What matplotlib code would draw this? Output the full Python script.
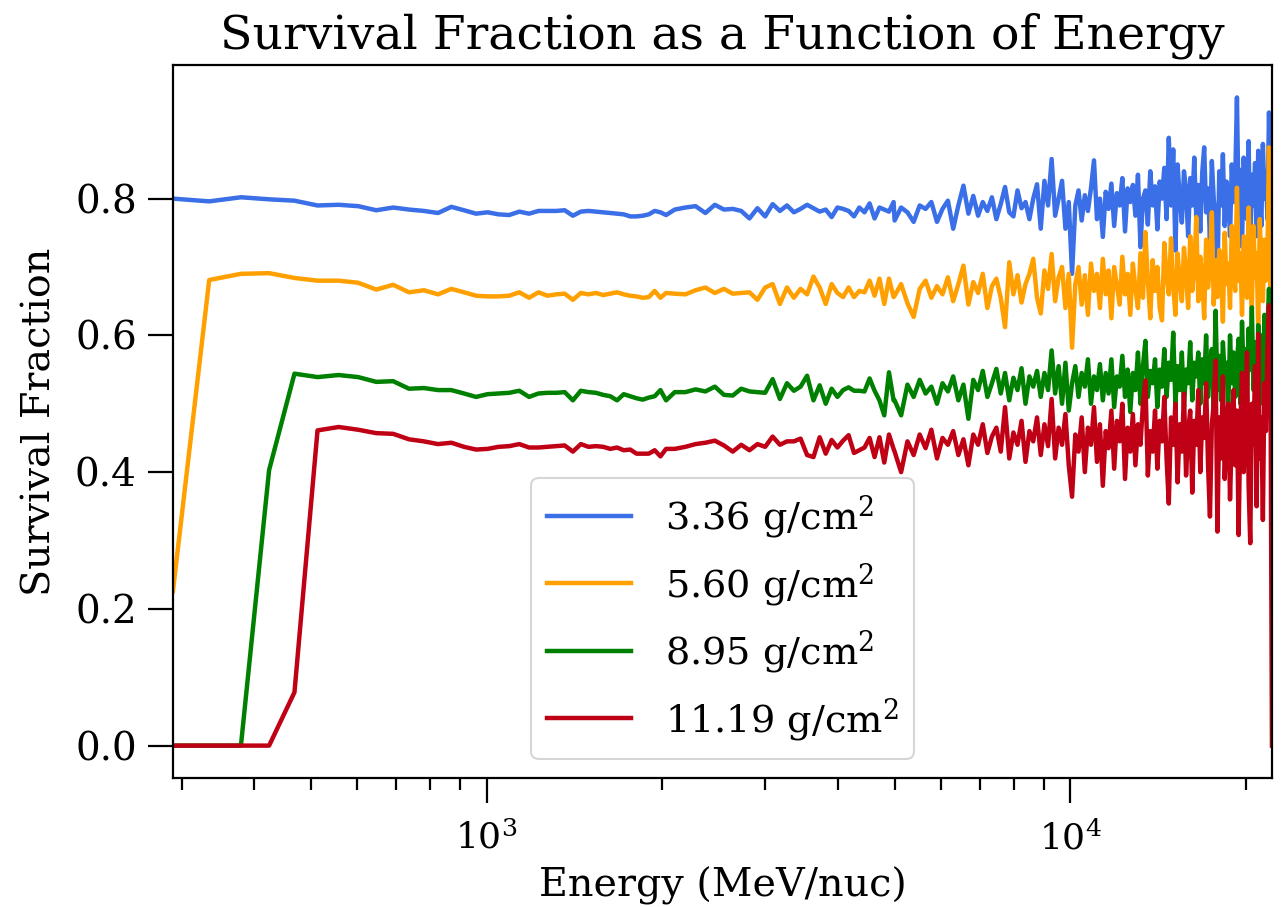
import numpy as np
import matplotlib
matplotlib.use("Agg")
import matplotlib.pyplot as plt

# energy grid (MeV/nuc): fine steps at low energy, coarser where the curves are noisy
energy = np.concatenate([np.arange(290, 2050, 44.6),
                         np.arange(2100, 5000, 90),
                         np.arange(5000, 22200, 130)])

labels = ["3.36 g/cm$^2$", "5.60 g/cm$^2$", "8.95 g/cm$^2$", "11.19 g/cm$^2$"]
colors = ["#3a6fe8", "#ffa000", "#008000", "#c00014"]

surv_336 = [
    # 290 - 2030
    0.800, 0.796, 0.802, 0.799, 0.797, 0.790, 0.791, 0.789, 0.783, 0.787,
    0.784, 0.782, 0.779, 0.788, 0.783, 0.778, 0.780, 0.777, 0.776, 0.781,
    0.778, 0.782, 0.782, 0.782, 0.783, 0.775, 0.781, 0.782, 0.781, 0.780,
    0.779, 0.778, 0.777, 0.774, 0.774, 0.775, 0.777, 0.782, 0.780, 0.776,
    # 2100 - 4980
    0.784, 0.787, 0.789, 0.779, 0.791, 0.784, 0.785, 0.782, 0.771, 0.786,
    0.774, 0.792, 0.782, 0.790, 0.780, 0.785, 0.791, 0.786, 0.781, 0.784,
    0.773, 0.787, 0.785, 0.782, 0.774, 0.787, 0.780, 0.793, 0.771, 0.787,
    0.784, 0.781, 0.795,
    # 5000 - 22160
    0.768, 0.787, 0.780, 0.766, 0.790, 0.785, 0.795, 0.766, 0.785, 0.797,
    0.756, 0.790, 0.819, 0.778, 0.804, 0.775, 0.795, 0.782, 0.802, 0.770,
    0.792, 0.817, 0.780, 0.774, 0.812, 0.786, 0.795, 0.770, 0.800, 0.821,
    0.756, 0.826, 0.790, 0.858, 0.775, 0.800, 0.826, 0.756, 0.795, 0.690,
    0.790, 0.812, 0.768, 0.805, 0.782, 0.815, 0.856, 0.770, 0.800, 0.744,
    0.810, 0.785, 0.822, 0.760, 0.808, 0.790, 0.830, 0.752, 0.815, 0.795,
    0.820, 0.775, 0.835, 0.729, 0.800, 0.812, 0.762, 0.840, 0.790, 0.818,
    0.755, 0.825, 0.800, 0.845, 0.770, 0.889, 0.790, 0.872, 0.724, 0.850,
    0.800, 0.765, 0.840, 0.812, 0.745, 0.830, 0.790, 0.860, 0.770, 0.820,
    0.752, 0.838, 0.875, 0.780, 0.815, 0.740, 0.855, 0.800, 0.770, 0.680,
    0.840, 0.790, 0.865, 0.760, 0.825, 0.805, 0.745, 0.850, 0.795, 0.830,
    0.948, 0.780, 0.842, 0.730, 0.860, 0.800, 0.770, 0.884, 0.720, 0.835,
    0.790, 0.852, 0.745, 0.870, 0.810, 0.760, 0.880, 0.800, 0.840, 0.770,
    0.926, 0.830, 0.880,
]

surv_560 = [
    0.226, 0.681, 0.690, 0.691, 0.684, 0.680, 0.680, 0.677, 0.667, 0.674,
    0.663, 0.666, 0.660, 0.668, 0.663, 0.658, 0.657, 0.657, 0.658, 0.663,
    0.655, 0.663, 0.658, 0.660, 0.661, 0.652, 0.662, 0.660, 0.662, 0.659,
    0.661, 0.663, 0.660, 0.658, 0.657, 0.655, 0.656, 0.665, 0.655, 0.662,
    0.661, 0.660, 0.666, 0.670, 0.662, 0.668, 0.661, 0.662, 0.663, 0.652,
    0.670, 0.675, 0.646, 0.670, 0.655, 0.668, 0.660, 0.686, 0.670, 0.646,
    0.675, 0.662, 0.656, 0.670, 0.656, 0.665, 0.663, 0.680, 0.658, 0.683,
    0.646, 0.683, 0.656,
    0.658, 0.675, 0.647, 0.627, 0.668, 0.680, 0.655, 0.672, 0.660, 0.685,
    0.650, 0.675, 0.702, 0.645, 0.678, 0.662, 0.690, 0.640, 0.672, 0.683,
    0.655, 0.612, 0.707, 0.660, 0.688, 0.648, 0.675, 0.690, 0.712, 0.655,
    0.632, 0.695, 0.668, 0.719, 0.650, 0.685, 0.700, 0.640, 0.690, 0.582,
    0.675, 0.700, 0.645, 0.688, 0.630, 0.705, 0.665, 0.690, 0.640, 0.712,
    0.660, 0.695, 0.625, 0.700, 0.672, 0.645, 0.715, 0.660, 0.690, 0.630,
    0.705, 0.668, 0.640, 0.720, 0.655, 0.751, 0.680, 0.625, 0.710, 0.665,
    0.700, 0.640, 0.622, 0.735, 0.690, 0.660, 0.742, 0.672, 0.630, 0.720,
    0.680, 0.650, 0.728, 0.690, 0.640, 0.745, 0.665, 0.700, 0.773, 0.650,
    0.715, 0.685, 0.625, 0.740, 0.670, 0.700, 0.780, 0.645, 0.710, 0.656,
    0.725, 0.690, 0.620, 0.750, 0.675, 0.705, 0.640, 0.760, 0.690, 0.665,
    0.816, 0.680, 0.720, 0.630, 0.745, 0.700, 0.655, 0.787, 0.690, 0.640,
    0.760, 0.685, 0.720, 0.610, 0.770, 0.700, 0.650, 0.740, 0.680, 0.720,
    0.875, 0.640, 0.700,
]

surv_895 = [
    0.000, 0.000, 0.000, 0.403, 0.544, 0.539, 0.542, 0.539, 0.532, 0.533,
    0.522, 0.523, 0.520, 0.520, 0.515, 0.510, 0.514, 0.515, 0.516, 0.519,
    0.510, 0.515, 0.516, 0.516, 0.517, 0.505, 0.519, 0.517, 0.516, 0.513,
    0.511, 0.505, 0.514, 0.511, 0.508, 0.506, 0.509, 0.511, 0.520, 0.505,
    0.517, 0.517, 0.521, 0.518, 0.525, 0.513, 0.512, 0.522, 0.518, 0.517,
    0.516, 0.536, 0.507, 0.530, 0.519, 0.525, 0.541, 0.505, 0.527, 0.500,
    0.522, 0.510, 0.520, 0.524, 0.519, 0.519, 0.518, 0.537, 0.519, 0.505,
    0.483, 0.546, 0.505,
    0.505, 0.483, 0.528, 0.510, 0.535, 0.515, 0.525, 0.500, 0.530, 0.518,
    0.540, 0.505, 0.528, 0.478, 0.535, 0.520, 0.548, 0.510, 0.530, 0.551,
    0.515, 0.545, 0.505, 0.538, 0.520, 0.552, 0.500, 0.540, 0.525, 0.548,
    0.510, 0.545, 0.520, 0.578, 0.515, 0.555, 0.500, 0.560, 0.490, 0.530,
    0.555, 0.510, 0.545, 0.525, 0.565, 0.500, 0.540, 0.520, 0.558, 0.505,
    0.545, 0.515, 0.565, 0.495, 0.540, 0.525, 0.570, 0.510, 0.550, 0.488,
    0.545, 0.520, 0.575, 0.500, 0.555, 0.592, 0.510, 0.548, 0.530, 0.565,
    0.495, 0.550, 0.525, 0.580, 0.510, 0.560, 0.535, 0.604, 0.500, 0.555,
    0.520, 0.575, 0.495, 0.550, 0.530, 0.590, 0.505, 0.560, 0.540, 0.575,
    0.500, 0.565, 0.530, 0.600, 0.510, 0.555, 0.580, 0.495, 0.636, 0.520,
    0.570, 0.505, 0.590, 0.540, 0.560, 0.490, 0.600, 0.530, 0.575, 0.510,
    0.560, 0.595, 0.500, 0.620, 0.540, 0.580, 0.505, 0.610, 0.550, 0.641,
    0.520, 0.590, 0.480, 0.615, 0.545, 0.600, 0.500, 0.630, 0.560, 0.610,
    0.668, 0.590, 0.520,
]

surv_1119 = [
    0.000, 0.000, 0.000, 0.000, 0.078, 0.461, 0.466, 0.462, 0.457, 0.456,
    0.448, 0.445, 0.441, 0.443, 0.437, 0.433, 0.434, 0.437, 0.438, 0.441,
    0.436, 0.436, 0.437, 0.438, 0.439, 0.430, 0.441, 0.437, 0.438, 0.437,
    0.434, 0.436, 0.432, 0.433, 0.427, 0.427, 0.427, 0.432, 0.423, 0.434,
    0.434, 0.437, 0.441, 0.443, 0.446, 0.439, 0.430, 0.440, 0.432, 0.441,
    0.437, 0.452, 0.440, 0.445, 0.445, 0.449, 0.425, 0.422, 0.451, 0.427,
    0.447, 0.436, 0.446, 0.454, 0.428, 0.432, 0.436, 0.450, 0.422, 0.451,
    0.414, 0.455, 0.434,
    0.430, 0.400, 0.445, 0.425, 0.455, 0.435, 0.462, 0.420, 0.450, 0.440,
    0.460, 0.425, 0.448, 0.410, 0.455, 0.440, 0.470, 0.428, 0.452, 0.465,
    0.430, 0.495, 0.420, 0.458, 0.440, 0.475, 0.415, 0.460, 0.445, 0.480,
    0.425, 0.470, 0.438, 0.507, 0.420, 0.465, 0.440, 0.485, 0.410, 0.364,
    0.455, 0.430, 0.480, 0.400, 0.465, 0.440, 0.495, 0.415, 0.470, 0.380,
    0.460, 0.435, 0.490, 0.405, 0.475, 0.445, 0.500, 0.390, 0.465, 0.430,
    0.485, 0.410, 0.470, 0.440, 0.500, 0.534, 0.395, 0.460, 0.430, 0.490,
    0.405, 0.475, 0.445, 0.510, 0.420, 0.354, 0.480, 0.440, 0.500, 0.385,
    0.470, 0.430, 0.515, 0.395, 0.460, 0.490, 0.370, 0.475, 0.440, 0.520,
    0.400, 0.480, 0.450, 0.530, 0.410, 0.335, 0.470, 0.500, 0.563, 0.313,
    0.480, 0.420, 0.540, 0.390, 0.470, 0.500, 0.360, 0.455, 0.520, 0.410,
    0.490, 0.308, 0.470, 0.545, 0.400, 0.460, 0.575, 0.380, 0.296, 0.500,
    0.440, 0.555, 0.350, 0.602, 0.420, 0.480, 0.330, 0.530, 0.460, 0.580,
    0.644, 0.550, 0.000,
]


def main():
    plt.rcParams["font.family"] = ["DejaVu Serif"]
    plt.rcParams["mathtext.fontset"] = "dejavuserif"

    fig, ax = plt.subplots(figsize=(12.83, 9.07), dpi=100)
    fig.subplots_adjust(left=0.1348, right=0.9914, top=0.9283, bottom=0.1422)

    for series, lab, col in zip([surv_336, surv_560, surv_895, surv_1119], labels, colors):
        ax.plot(energy, series, color=col, lw=3.2, label=lab)

    ax.set_xscale("log")
    ax.set_xlim(energy[0], energy[-1])

    for sp in ax.spines.values():
        sp.set_linewidth(1.6)
    ax.tick_params(which="major", length=18, width=1.6)
    ax.tick_params(which="minor", length=8.5, width=1.6)
    ax.tick_params(axis="x", which="major", labelsize=26, pad=13)
    ax.tick_params(axis="y", which="major", labelsize=28, pad=8)
    ax.set_yticks([0.0, 0.2, 0.4, 0.6, 0.8])

    ax.set_xlabel("Energy (MeV/nuc)", fontsize=28.5, labelpad=7)
    ax.set_ylabel("Survival Fraction", fontsize=28.5, labelpad=12)
    ax.set_title("Survival Fraction as a Function of Energy", fontsize=34, pad=12)

    leg = ax.legend(loc="lower center", fontsize=27.5, handlelength=2.2,
                    handletextpad=0.9, labelspacing=0.52, borderaxespad=0.5)
    leg.get_frame().set_linewidth(1.5)

    fig.savefig("out.png", dpi=100)


if __name__ == "__main__":
    main()
